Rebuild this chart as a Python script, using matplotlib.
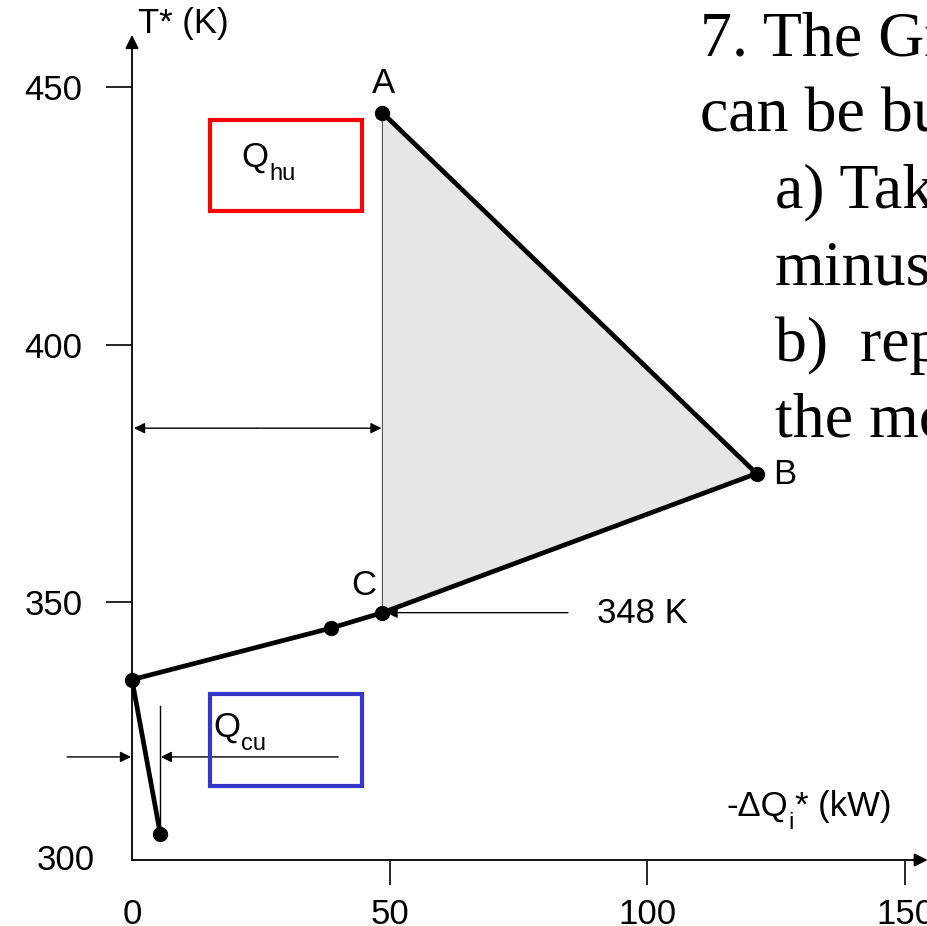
import matplotlib
matplotlib.use("Agg")
import matplotlib.pyplot as plt
from matplotlib.patches import Rectangle, Polygon

plt.rcParams['font.family'] = ['Liberation Sans', 'DejaVu Sans']

# Grand composite curve: cumulative heat flow (kW) vs shifted temperature (K)
heat_flow = [5.5, 0.0, 38.6, 48.6, 121.2, 48.6]
temperature = [305, 335, 345, 348, 375, 445]
point_names = {3: "C", 4: "B", 5: "A"}
pinch_temp = 348
q_hu = 48.6
q_cu = 5.5

x_ticks = [0, 50, 100, 150]
y_ticks = [350, 400, 450]
y_origin_label = "300"

slide_lines = ["7. The Gr", "can be bu", "a) Tak", "minus", "b)  rep", "the mo"]

FS = 25
SUB = 17
W, H = 928, 926
fig = plt.figure(figsize=(W / 100, H / 100), dpi=100)
ax = fig.add_axes([132 / W, 66 / H, 796 / W, 825 / H])
ax.set_xlim(0, 154.47)
ax.set_ylim(300, 460.1)
for s in ax.spines.values():
    s.set_visible(False)


def text_with_sub(x, y, main, sub, tail=""):
    """Draw main text followed by a dropped subscript (and optional tail)."""
    t = ax.text(x, y, main, ha='left', va='baseline', fontsize=FS, zorder=5,
                clip_on=False)
    s = ax.annotate(sub, xy=(1, 0), xycoords=t, xytext=(0.5, 7.7),
                    textcoords='offset points', ha='left', va='top',
                    fontsize=SUB, zorder=5)
    if tail:
        ax.annotate(tail, xy=(1, 0), xycoords=(s, t), xytext=(0.5, 0),
                    textcoords='offset points', ha='left', va='bottom',
                    fontsize=FS, zorder=5)


# axes with arrow heads
arrow_kw = dict(arrowstyle='-|>', color='black', lw=1.3, mutation_scale=20,
                shrinkA=0, shrinkB=0)
ax.annotate('', xy=(154.4, 300), xytext=(0, 300), arrowprops=arrow_kw,
            annotation_clip=False)
ax.annotate('', xy=(0, 460.1), xytext=(0, 300), arrowprops=arrow_kw,
            annotation_clip=False)

ax.set_xticks(x_ticks)
ax.set_yticks(y_ticks)
ax.tick_params(axis='x', direction='out', length=18, width=1.2, pad=9, labelsize=FS)
ax.tick_params(axis='y', direction='out', length=18.7, width=1.2, pad=17, labelsize=FS)
ax.xaxis.get_major_ticks()[0].tick1line.set_visible(False)
ax.text(-7.2, 300, y_origin_label, ha='right', va='center', fontsize=FS, clip_on=False)

# shaded pocket A-B-C
pocket = Polygon([(heat_flow[3], temperature[3]), (heat_flow[4], temperature[4]),
                  (heat_flow[5], temperature[5])], closed=True,
                 facecolor='#e6e6e6', edgecolor='#555555', lw=0.8, zorder=1)
ax.add_patch(pocket)

ax.plot(heat_flow, temperature, color='black', lw=3.4, marker='o', ms=10,
        solid_joinstyle='round', zorder=3, clip_on=False)

label_pos = {"A": (48.8, 448.8, 'center'), "B": (124.4, 373.0, 'left'),
             "C": (45.0, 351.4, 'center')}
for i, name in point_names.items():
    lx, ly, ha = label_pos[name]
    ax.text(lx, ly, name, ha=ha, va='baseline', fontsize=FS)

# hot utility
small_arrow = dict(arrowstyle='-|>', color='black', lw=1.0, mutation_scale=16,
                   shrinkA=0, shrinkB=0)
ax.annotate('', xy=(0.4, 383.8), xytext=(q_hu / 2, 383.8), arrowprops=small_arrow)
ax.annotate('', xy=(q_hu - 0.2, 383.8), xytext=(q_hu / 2, 383.8), arrowprops=small_arrow)
ax.add_patch(Rectangle((15.1, 425.9), 29.5, 17.7, fill=False, edgecolor='#ff0000',
                       lw=3.0, zorder=4))
text_with_sub(21.3, 434.6, 'Q', 'hu')

# cold utility
ax.annotate('', xy=(-0.2, 320), xytext=(-12.6, 320), arrowprops=small_arrow,
            annotation_clip=False)
ax.annotate('', xy=(q_cu + 0.1, 320), xytext=(40, 320), arrowprops=small_arrow)
ax.plot([q_cu, q_cu], [305, 329.9], color='black', lw=1.0)
ax.add_patch(Rectangle((15.1, 314.4), 29.5, 17.8, fill=False, edgecolor='#3535c8',
                       lw=3.0, zorder=4))
text_with_sub(15.7, 324.0, 'Q', 'cu')

# pinch temperature
ax.annotate('', xy=(q_hu + 0.8, pinch_temp), xytext=(84.6, pinch_temp),
            arrowprops=small_arrow)
ax.text(90.2, 346.0, f'{pinch_temp} K', ha='left', va='baseline', fontsize=FS)

# axis titles
ax.text(1.2, 460.5, 'T* (K)', ha='left', va='baseline', fontsize=FS, clip_on=False)
text_with_sub(115.3, 308.6, '-ΔQ', 'i', '* (kW)')

# slide text
y0 = 55
for k, line in enumerate(slide_lines):
    x = 700 if k < 2 else 775
    fig.text(x / W, 1 - (y0 + 76.4 * k) / H, line, family='Liberation Serif',
             fontsize=46, ha='left', va='baseline')

fig.savefig('out.png', dpi=100)
